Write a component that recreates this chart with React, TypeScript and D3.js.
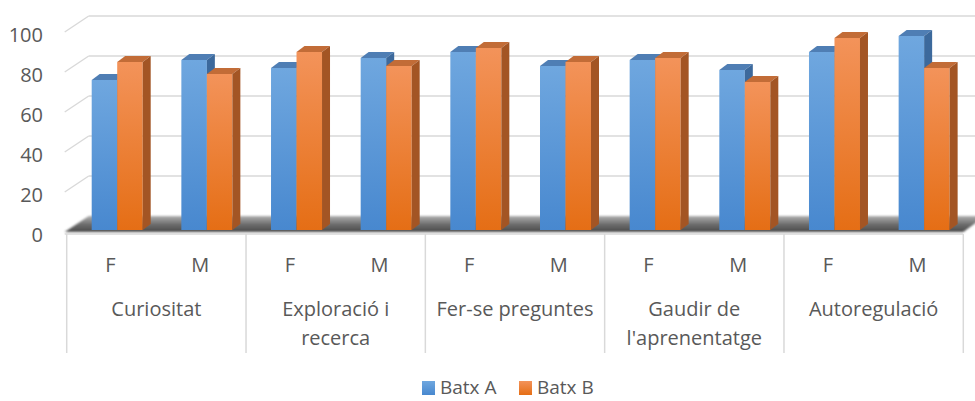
import React from "react";
import * as d3 from "d3";

const categories = ["Curiositat", "Exploració i\nrecerca", "Fer-se preguntes", "Gaudir de\nl'aprenentatge", "Autoregulació"];
const genders = ["F", "M"];
const seriesNames = ["Batx A", "Batx B"];
// values per category x gender (F, M)
const batxA = [75, 85, 81, 86, 89, 82, 85, 80, 89, 97];
const batxB = [84, 78, 89, 82, 91, 84, 86, 74, 96, 81];
const yTicks = [0, 20, 40, 60, 80, 100];

const W = 975, H = 401;
const FONT = "'Open Sans', sans-serif";
const TXT = "#595959";

export default function App() {
  const x0 = 66.7, x1 = 963.3;
  const floorFront = 232;
  const depth = { dx: 22, dy: -16 };
  const barBase = 230;
  const barDepth = { dx: 8, dy: -6 };
  const barW = 25.5;
  const barOffset = 25;

  const subKeys = categories.flatMap((c, ci) => genders.map((g) => `${ci}-${g}`));
  const xSub = d3.scaleBand<string>().domain(subKeys).range([x0, x1]).padding(0);
  const xCat = d3.scaleBand<string>().domain(categories).range([x0, x1]).padding(0);
  const xSeries = d3.scaleBand<string>().domain(seriesNames).range([barOffset, barOffset + 2 * barW]).padding(0);

  const yFront = d3.scaleLinear().domain([0, 100]).range([floorFront, floorFront - 200]);
  const yBar = d3.scaleLinear().domain([0, 100]).range([barBase, barBase - 200]);

  const colors = [
    { top: "#6fa7df", bottom: "#4888cf", cap: "#4f7eb4", side: "#3c699c" },
    { top: "#f3935a", bottom: "#e56e15", cap: "#c26c37", side: "#a35524" },
  ];
  const seriesData = [batxA, batxB];

  const bars: React.ReactNode[] = [];
  subKeys.forEach((k, i) => {
    seriesNames.forEach((s, si) => {
      const v = seriesData[si][i];
      const x = (xSub(k) as number) + (xSeries(s) as number);
      const w = xSeries.bandwidth();
      const yt = yBar(v);
      const c = colors[si];
      const { dx, dy } = barDepth;
      bars.push(
        <g key={`${k}-${s}`}>
          <rect x={x} y={yt} width={w} height={barBase - yt} fill={`url(#grad${si})`} />
          <polygon points={`${x},${yt} ${x + w},${yt} ${x + w + dx},${yt + dy} ${x + dx},${yt + dy}`} fill={c.cap} />
          <polygon points={`${x + w},${yt} ${x + w + dx},${yt + dy} ${x + w + dx},${barBase + dy} ${x + w},${barBase}`} fill={c.side} />
        </g>
      );
    });
  });

  const catBounds = [...categories.map((c) => xCat(c) as number), x1];

  return (
    <svg width={W} height={H} style={{ position: "absolute", left: 0, top: 0, background: "#fff" }} fontFamily={FONT}>
      <defs>
        {colors.map((c, i) => (
          <linearGradient key={i} id={`grad${i}`} x1="0" y1="0" x2="0" y2="1">
            <stop offset="0%" stopColor={c.top} />
            <stop offset="100%" stopColor={c.bottom} />
          </linearGradient>
        ))}
        <linearGradient id="floorGrad" x1="0" y1="0" x2="0" y2="1">
          <stop offset="0%" stopColor="#b0b0b0" />
          <stop offset="55%" stopColor="#6a6a6a" />
          <stop offset="100%" stopColor="#4a4a4a" />
        </linearGradient>
        <filter id="blur" x="-5%" y="-50%" width="110%" height="200%">
          <feGaussianBlur stdDeviation="1.2" />
        </filter>
      </defs>

      {/* gridlines: back wall + left side */}
      <g stroke="#d9d9d9" strokeWidth={1.5} fill="none">
        {yTicks.filter((t) => t > 0).map((t) => (
          <g key={t}>
            <line x1={x0 + depth.dx} x2={x1 + depth.dx} y1={yFront(t) + depth.dy} y2={yFront(t) + depth.dy} />
            <line x1={x0 - 2} y1={yFront(t)} x2={x0 + depth.dx} y2={yFront(t) + depth.dy} />
          </g>
        ))}
      </g>

      {/* floor */}
      <polygon
        points={`${x0 - 2},${floorFront} ${x1},${floorFront} ${x1 + depth.dx},${floorFront + depth.dy} ${x0 + depth.dx},${floorFront + depth.dy}`}
        fill="url(#floorGrad)"
        filter="url(#blur)"
      />

      {bars}

      {/* category axis box */}
      <g stroke="#d9d9d9" strokeWidth={1.5}>
        <line x1={x0 - 2} x2={x1} y1={floorFront + 2} y2={floorFront + 2} />
        {catBounds.map((bx, i) => (
          <line key={i} x1={bx} x2={bx} y1={floorFront + 2} y2={353} />
        ))}
      </g>

      {/* y tick labels */}
      <g fill={TXT} fontSize={20} textAnchor="end">
        {yTicks.map((t) => (
          <text key={t} x={43} y={yFront(t) + 3} dy="0.35em">{t}</text>
        ))}
      </g>

      {/* gender labels */}
      <g fill={TXT} fontSize={20} textAnchor="middle">
        {subKeys.map((k, i) => (
          <text key={k} x={(xSub(k) as number) + xSub.bandwidth() / 2 - 1} y={265} dy="0.35em">{genders[i % 2]}</text>
        ))}
      </g>

      {/* category labels */}
      <g fill={TXT} fontSize={20} textAnchor="middle">
        {categories.map((c) => {
          const lines = c.split("\n");
          const cx = (xCat(c) as number) + xCat.bandwidth() / 2;
          return lines.map((ln, li) => (
            <text key={c + li} x={cx} y={309 + li * 29} dy="0.35em">{ln}</text>
          ));
        })}
      </g>

      {/* legend */}
      <g fontSize={19} fill={TXT}>
        {seriesNames.map((s, i) => {
          const lx = i === 0 ? 422 : 519;
          return (
            <g key={s}>
              <rect x={lx} y={381} width={13} height={14} fill={`url(#grad${i})`} />
              <text x={lx + 18} y={387} dy="0.35em">{s}</text>
            </g>
          );
        })}
      </g>
    </svg>
  );
}
